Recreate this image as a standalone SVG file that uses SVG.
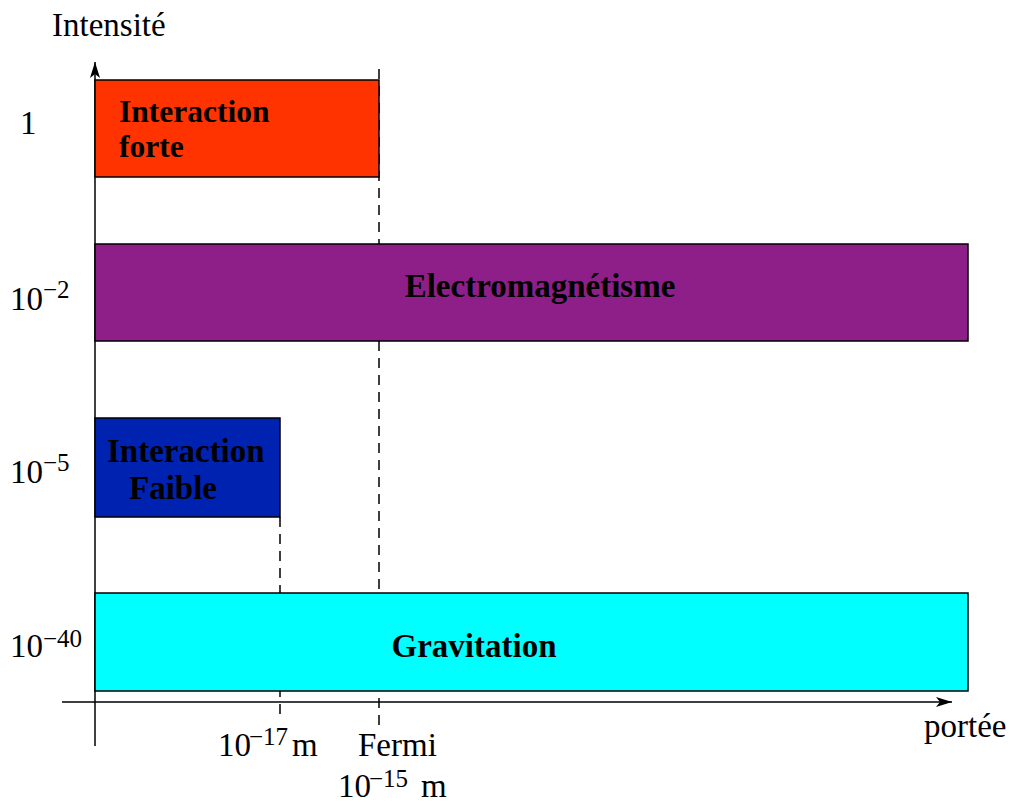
<svg xmlns="http://www.w3.org/2000/svg" width="1011" height="802" viewBox="0 0 1011 802">
<defs>
<style>
.t{font-family:"Liberation Serif","Times New Roman",serif;font-size:33px;fill:#000}
.s{font-family:"Liberation Serif","Times New Roman",serif;font-size:25px;fill:#000}
.b{font-family:"Liberation Serif","Times New Roman",serif;font-size:33px;font-weight:bold;fill:#000}
.box{stroke:#000;stroke-width:1.5}
.ax{stroke:#000;stroke-width:1.5;fill:none}
.dash{stroke:#000;stroke-width:1.5;stroke-dasharray:10 7;fill:none}
</style>
<marker id="arr" viewBox="0 0 16 10" refX="16" refY="5" markerWidth="16" markerHeight="10" markerUnits="userSpaceOnUse" orient="auto">
<path d="M0,0 L16,5 L0,10 L4,5 Z" fill="#000"/>
</marker>
</defs>
<g id="connectors">
<line class="ax" x1="95" y1="746" x2="95" y2="62" marker-end="url(#arr)"/>
<line class="ax" x1="62" y1="702" x2="952" y2="702" marker-end="url(#arr)"/>
<line class="dash" x1="379" y1="69" x2="379" y2="730"/>
<line class="dash" x1="280" y1="517" x2="280" y2="716"/>
</g>
<g id="forte">
<rect class="box" x="95" y="80" width="284" height="97" fill="#ff3300"/>
<text class="b" x="119" y="122" style="font-size:31.5px">Interaction</text>
<text class="b" x="119" y="157" style="font-size:31.5px">forte</text>
</g>
<g id="electro">
<rect class="box" x="95" y="244" width="873" height="97" fill="#8f1f88"/>
<text class="b" x="540" y="297" text-anchor="middle">Electromagnétisme</text>
</g>
<g id="faible">
<rect class="box" x="95" y="418" width="185" height="99" fill="#0022b0"/>
<text class="b" x="107" y="462">Interaction</text>
<text class="b" x="129" y="499">Faible</text>
</g>
<g id="gravitation">
<rect class="box" x="95" y="593" width="873" height="98" fill="#00ffff"/>
<text class="b" x="474" y="657" text-anchor="middle">Gravitation</text>
</g>
<g id="labels">
<text class="t" x="52" y="36">Intensité</text>
<text class="t" x="20" y="134">1</text>
<text class="t" x="10" y="310">10</text><text class="s" x="43" y="298">−2</text>
<text class="t" x="10" y="483">10</text><text class="s" x="43" y="471">−5</text>
<text class="t" x="10" y="657">10</text><text class="s" x="43" y="647">−40</text>
<text class="t" x="218" y="756">10</text><text class="s" x="249" y="745">−17</text><text class="t" x="292" y="756">m</text>
<text class="t" x="358" y="756">Fermi</text>
<text class="t" x="338" y="797">10</text><text class="s" x="369" y="787">−15</text><text class="t" x="421" y="797">m</text>
<text class="t" x="924" y="737">portée</text>
</g>
</svg>
